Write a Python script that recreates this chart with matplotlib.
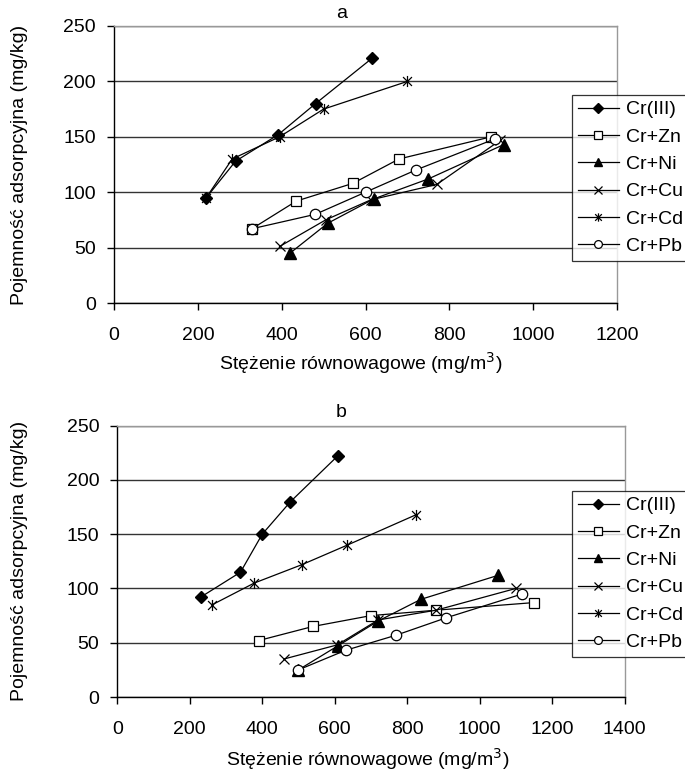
import matplotlib
matplotlib.use("Agg")
import matplotlib.pyplot as plt
from matplotlib.path import Path

plt.rcParams['font.family'] = ['Liberation Sans', 'DejaVu Sans']

series_names = ["Cr(III)", "Cr+Zn", "Cr+Ni", "Cr+Cu", "Cr+Cd", "Cr+Pb"]

# Panel a
a_cr_x = [220, 290, 392, 481, 616]
a_cr_y = [95, 128, 152, 180, 221]
a_zn_x = [329, 435, 570, 680, 900]
a_zn_y = [67, 92, 108, 130, 150]
a_ni_x = [420, 510, 620, 750, 930]
a_ni_y = [45, 72, 94, 112, 143]
a_cu_x = [395, 505, 612, 770, 922]
a_cu_y = [51, 75, 93, 107, 147]
a_cd_x = [220, 282, 395, 500, 700]
a_cd_y = [95, 130, 150, 175, 200]
a_pb_x = [329, 480, 600, 720, 908]
a_pb_y = [67, 80, 100, 120, 148]

# Panel b
b_cr_x = [230, 340, 400, 478, 608]
b_cr_y = [92, 115, 150, 180, 222]
b_zn_x = [390, 540, 700, 880, 1150]
b_zn_y = [52, 65, 75, 80, 87]
b_ni_x = [500, 608, 720, 838, 1050]
b_ni_y = [25, 47, 70, 90, 112]
b_cu_x = [460, 607, 720, 880, 1100]
b_cu_y = [35, 48, 71, 80, 100]
b_cd_x = [262, 378, 510, 635, 825]
b_cd_y = [85, 105, 122, 140, 168]
b_pb_x = [500, 630, 770, 908, 1118]
b_pb_y = [25, 43, 57, 73, 95]

panel_titles = ["a", "b"]
xlabel = "Stężenie równowagowe (mg/m$^3$)"
ylabel = "Pojemność adsorpcyjna (mg/kg)"
y_ticks = [0, 50, 100, 150, 200, 250]
a_x_ticks = [0, 200, 400, 600, 800, 1000, 1200]
b_x_ticks = [0, 200, 400, 600, 800, 1000, 1200, 1400]

star = Path([(0, -1), (0, 1), (-0.8, -0.8), (0.8, 0.8), (-0.8, 0.8), (0.8, -0.8)],
            [Path.MOVETO, Path.LINETO, Path.MOVETO, Path.LINETO, Path.MOVETO, Path.LINETO])

styles = [
    dict(marker='D', ms=6.5, mfc='black', mec='black'),
    dict(marker='s', ms=7, mfc='white', mec='black', mew=0.9),
    dict(marker='^', ms=8, mfc='black', mec='black'),
    dict(marker='x', ms=7.5, mfc='none', mec='black', mew=0.9),
    dict(marker=star, ms=8, mfc='none', mec='black', mew=0.9),
    dict(marker='o', ms=7.5, mfc='white', mec='black', mew=0.9),
]

W, H = 685, 773
fig = plt.figure(figsize=(W / 100, H / 100), dpi=100)
FS = 14


def make_panel(rect, xs, ys, xticks, title, title_x, legend_rect, xlab_pos, ylab_x):
    l, t, r, b = rect
    ax = fig.add_axes([l / W, (H - b) / H, (r - l) / W, (b - t) / H])
    for name, x, y, st in zip(series_names, xs, ys, styles):
        ax.plot(x, y, color='black', lw=0.9, label=name, **st, zorder=3)
    ax.set_xlim(xticks[0], xticks[-1])
    ax.set_ylim(0, 250)
    ax.set_xticks(xticks)
    ax.set_yticks(y_ticks)
    ax.yaxis.grid(True, color='#333333', lw=1.0)
    ax.set_axisbelow(True)
    ax.tick_params(axis='both', direction='out', length=5, width=1.0, labelsize=FS,
                   color='black')
    ax.tick_params(axis='x', pad=12)
    ax.tick_params(axis='y', pad=8)
    for s in ['top', 'right']:
        ax.spines[s].set_color('#999999')
        ax.spines[s].set_linewidth(1.0)
    for s in ['left', 'bottom']:
        ax.spines[s].set_color('black')
        ax.spines[s].set_linewidth(1.0)
    fig.text(title_x / W, 1 - (t - 13) / H, title, fontsize=FS, ha='center', va='center')
    xl_x, xl_base = xlab_pos
    fig.text(xl_x / W, 1 - xl_base / H, xlabel, fontsize=FS, ha='left', va='baseline')
    fig.text(ylab_x / W, 1 - (t + b) / 2 / H, ylabel, fontsize=FS, ha='center', va='center',
             rotation=90)
    ll, lt = legend_rect
    leg = ax.legend(loc='upper left', bbox_to_anchor=((ll - l) / (r - l), (b - lt) / (b - t)),
                    bbox_transform=ax.transAxes, borderaxespad=0, frameon=True,
                    fancybox=False, edgecolor='black', fontsize=FS, markerscale=0.75,
                    handlelength=2.1, handletextpad=0.4, borderpad=0.3, labelspacing=0.5)
    leg.get_frame().set_linewidth(0.9)
    leg.set_zorder(10)
    return ax


make_panel((114, 26, 617, 303),
           [a_cr_x, a_zn_x, a_ni_x, a_cu_x, a_cd_x, a_pb_x],
           [a_cr_y, a_zn_y, a_ni_y, a_cu_y, a_cd_y, a_pb_y],
           a_x_ticks, panel_titles[0], 342, (572, 95), (219, 369.5), 20)
make_panel((117.3, 425.7, 624.5, 697),
           [b_cr_x, b_zn_x, b_ni_x, b_cu_x, b_cd_x, b_pb_x],
           [b_cr_y, b_zn_y, b_ni_y, b_cu_y, b_cd_y, b_pb_y],
           b_x_ticks, panel_titles[1], 341, (572, 491), (226.5, 766), 20)

fig.savefig("out.png", dpi=100)
